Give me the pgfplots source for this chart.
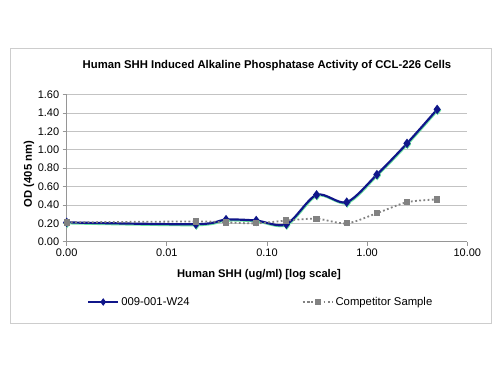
\documentclass[border=0pt]{standalone}
\usepackage{pgfplots}
\pgfplotsset{compat=1.18}
\usepackage{fontspec}
\setmainfont{Liberation Sans}
\definecolor{navyblue}{RGB}{16,22,138}
\definecolor{glow}{RGB}{110,230,160}
\definecolor{gridgray}{RGB}{195,195,195}
\definecolor{axgray}{RGB}{150,150,150}
\definecolor{sergray}{RGB}{130,130,130}
\definecolor{framegray}{RGB}{205,205,205}
\begin{document}
\begin{tikzpicture}
\path[use as bounding box] (0,0) rectangle (500pt,375pt);
\fill[white] (0,0) rectangle (500pt,375pt);
\draw[framegray, line width=1pt] (10.7pt,52pt) rectangle (491pt,326pt);
\begin{axis}[
  at={(66.7pt,133.3pt)}, anchor=south west,
  scale only axis, width=400.6pt, height=147pt,
  xmode=log, xmin=0.001, xmax=10, ymin=0, ymax=1.6,
  xtick={0.001,0.01,0.1,1,10},
  xticklabels={0.00,0.01,0.10,1.00,10.00},
  ytick={0,0.2,0.4,0.6,0.8,1.0,1.2,1.4,1.6},
  yticklabels={0.00,0.20,0.40,0.60,0.80,1.00,1.20,1.40,1.60},
  minor tick num=0, xminorticks=false,
  axis x line*=bottom, axis y line*=left,
  ymajorgrids, grid style={gridgray, line width=0.9pt},
  tick align=outside, major tick length=4pt,
  tick style={axgray, line width=0.8pt},
  axis line style={axgray, line width=0.9pt},
  ticklabel style={font=\fontsize{11}{13}\selectfont},
  title={\bfseries Human SHH Induced Alkaline Phosphatase Activity of CCL-226 Cells},
  title style={font=\fontsize{11.3}{13}\selectfont, at={(0.5,1.154)}, anchor=center},
  xlabel={\bfseries Human SHH (ug/ml) [log scale]},
  xlabel style={font=\fontsize{11.2}{13}\selectfont, at={(0.48,-0.227)}, anchor=center},
  ylabel={\bfseries OD (405 nm)},
  ylabel style={font=\fontsize{11.2}{13}\selectfont, at={(-0.094,0.46)}, anchor=center},
  legend columns=2,
  legend style={draw=none, fill=none, at={(0.043,-0.41)}, anchor=west,
    font=\fontsize{11.3}{13}\selectfont,
    /tikz/every even column/.append style={column sep=110pt}},
  legend image code/.code={
    \draw[mark repeat=2,mark phase=2,#1,mark size=2pt] plot coordinates {(0pt,0pt) (15pt,0pt) (30pt,0pt)};
  },
]
\addplot[forget plot, glow, line width=2.2pt, smooth, tension=0.5, xshift=0.5pt, yshift=-0.9pt,
  mark=diamond*, mark size=3pt, mark options={glow}]
coordinates {
 (0.001,0.21) (0.0195,0.19) (0.039,0.24) (0.078,0.23) (0.156,0.19)
 (0.3125,0.51) (0.625,0.43) (1.25,0.73) (2.5,1.07) (5,1.44)
};
\addplot[navyblue, line width=2.2pt, smooth, tension=0.5,
  mark=diamond*, mark size=3pt, mark options={navyblue, solid}]
coordinates {
 (0.001,0.21) (0.0195,0.19) (0.039,0.24) (0.078,0.23) (0.156,0.19)
 (0.3125,0.51) (0.625,0.43) (1.25,0.73) (2.5,1.07) (5,1.44)
};
\addlegendentry{009-001-W24}
\addplot[sergray, line width=1.8pt, dash pattern=on 1.8pt off 2.4pt, smooth, tension=0.5,
  mark=square*, mark size=2.2pt, mark options={sergray, solid}]
coordinates {
 (0.001,0.21) (0.0195,0.22) (0.039,0.21) (0.078,0.20) (0.156,0.23)
 (0.3125,0.25) (0.625,0.20) (1.25,0.31) (2.5,0.43) (5,0.46)
};
\addlegendentry{Competitor Sample}
\end{axis}
\end{tikzpicture}
\end{document}
